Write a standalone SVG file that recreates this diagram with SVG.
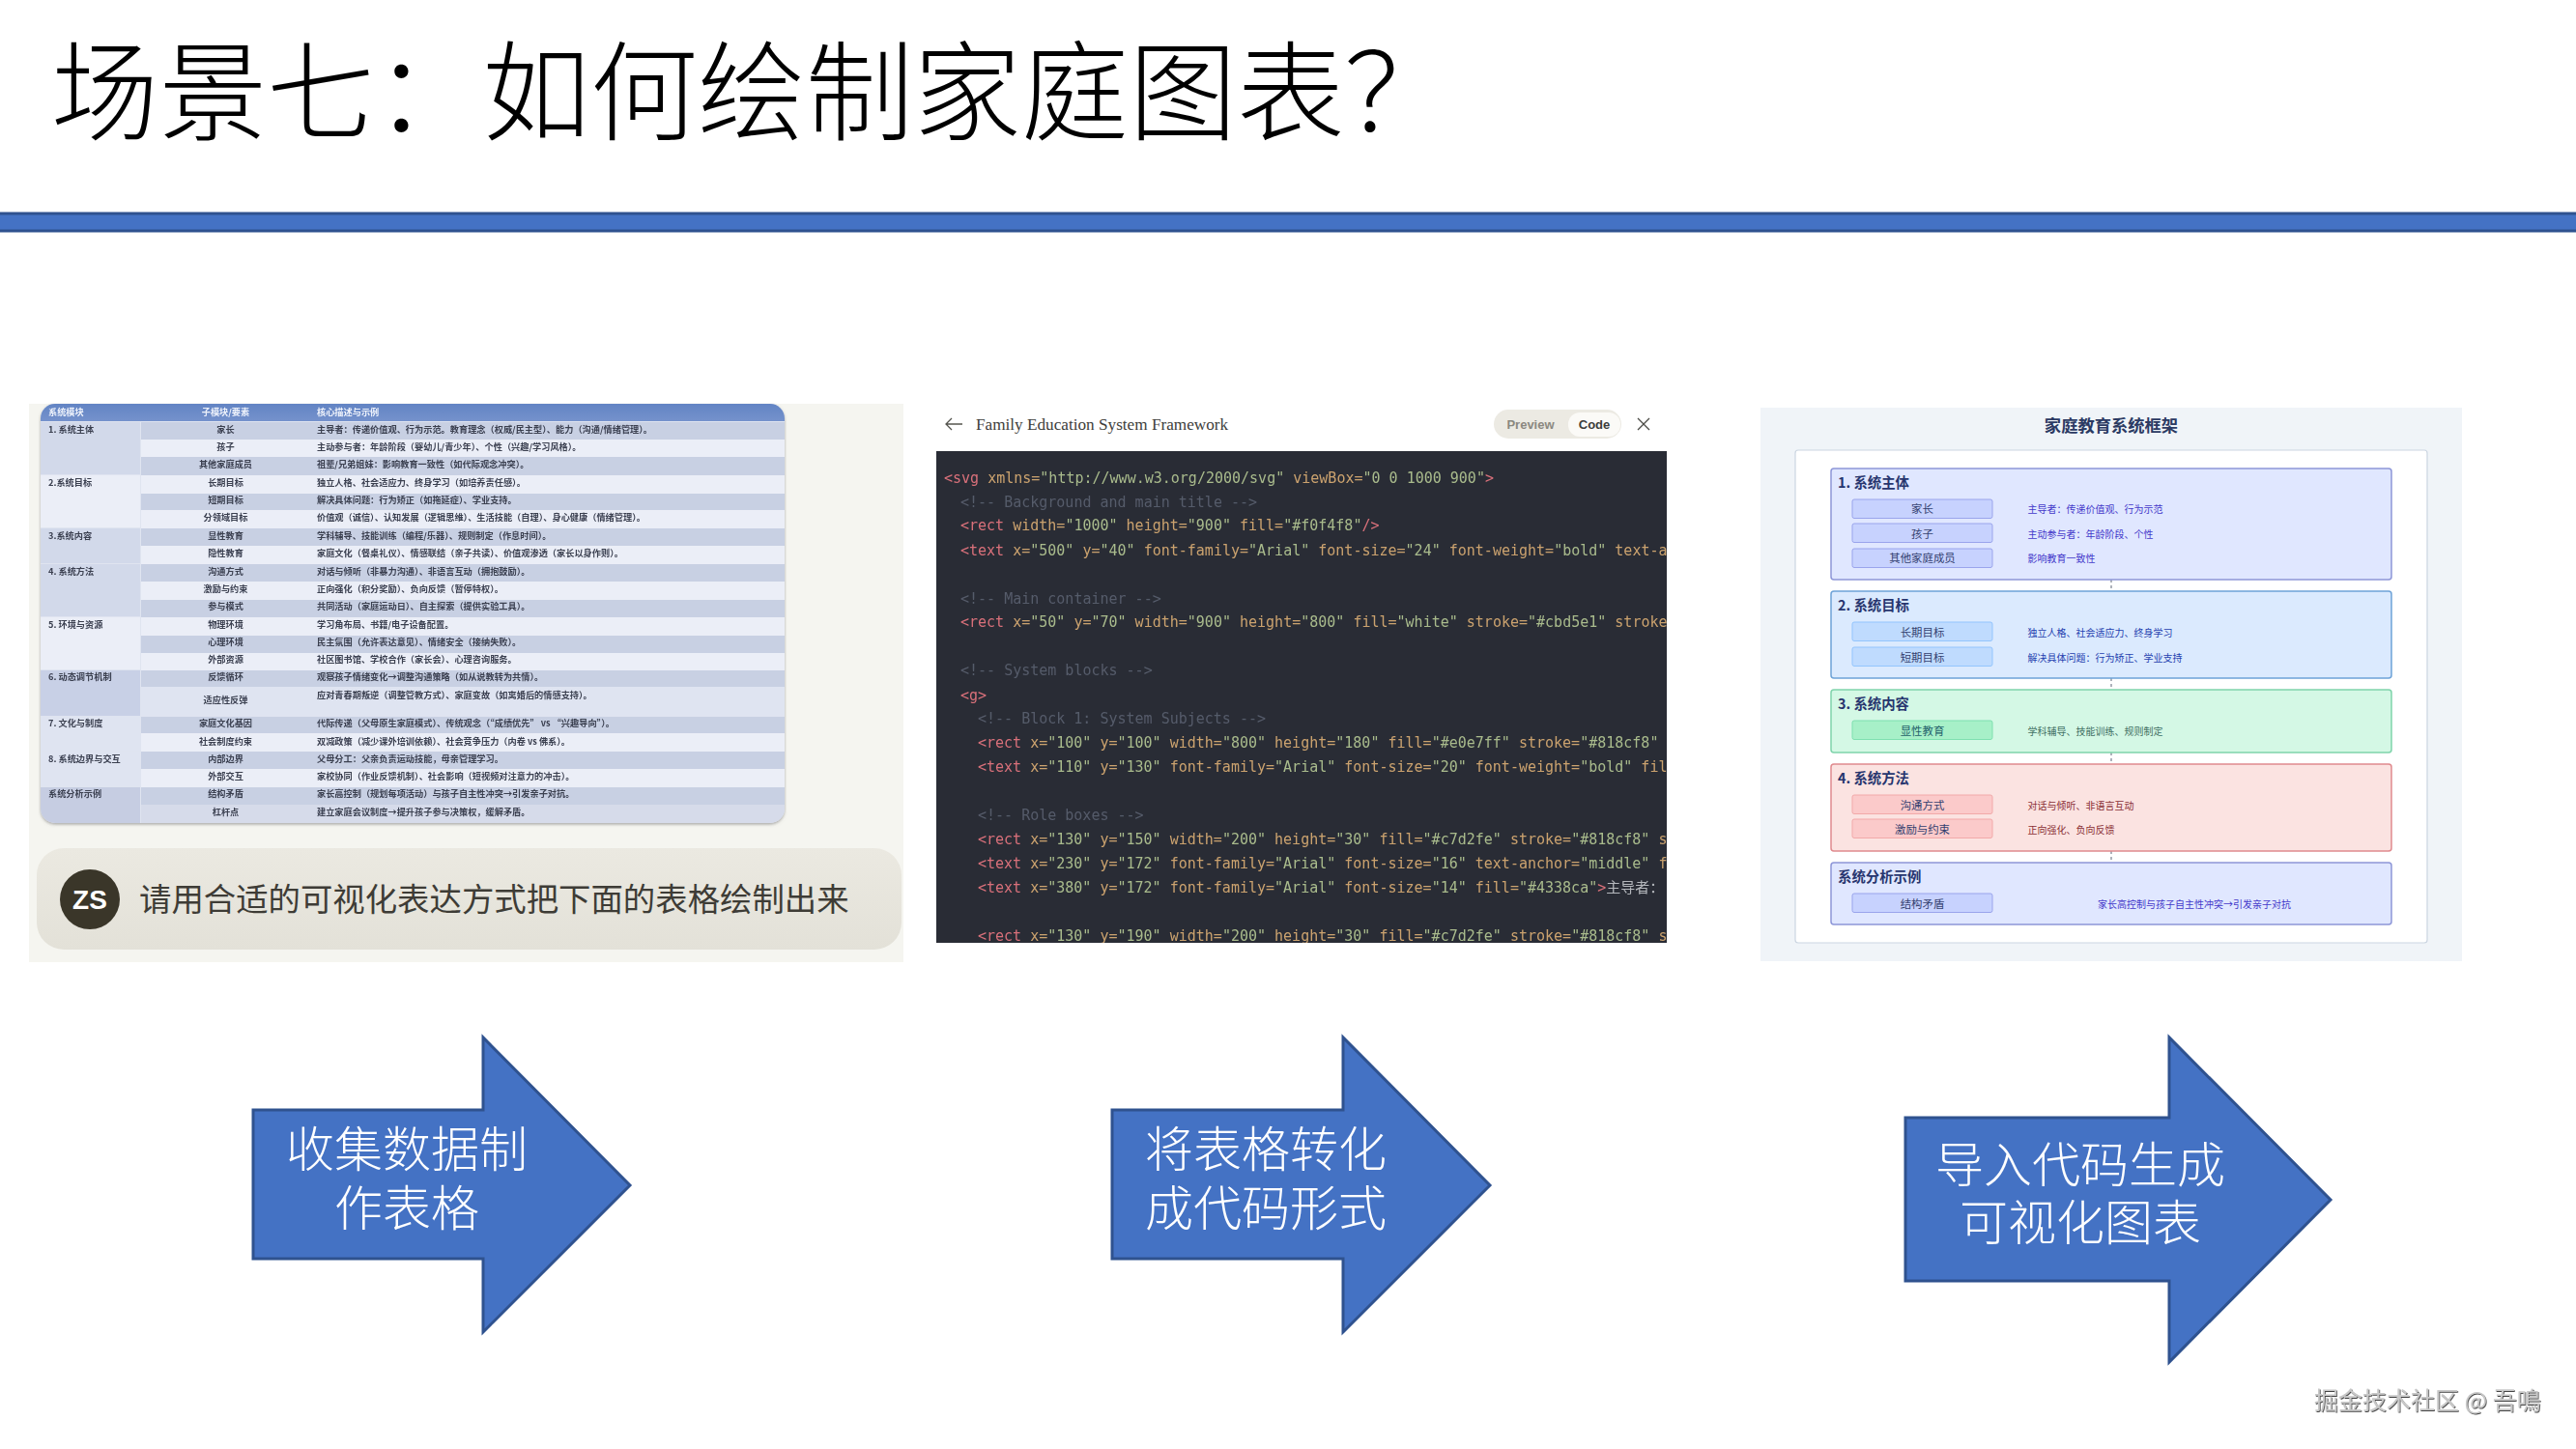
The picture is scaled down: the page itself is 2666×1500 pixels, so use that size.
<svg xmlns="http://www.w3.org/2000/svg" width="2666" height="1500" viewBox="0 0 2666 1500">
<style>
text{font-family:"Noto Sans CJK SC","Liberation Sans",sans-serif}
.arrow{fill:#4472c4;stroke:#2f528f;stroke-width:3}
.arrowtext{font-size:50px;font-weight:300;fill:#fff;text-anchor:middle}
.dk{fill:#c8d0e3}.lt{fill:#ebeef7}
.tb text{font-size:9.2px;fill:#3a3f50;font-weight:700}
.tb .sub{text-anchor:middle}
.tb .hd{fill:#eef2fb}
.code text{font-family:"DejaVu Sans Mono","Noto Sans CJK SC",monospace;font-size:15px;fill:#b8c4a4}
.k{fill:#d9707a}.a{fill:#cba26e}.s{fill:#a9bb8c}.c{fill:#4d5361}
.block{stroke-width:1.5}
.role{stroke-width:1}
.bt{font-size:14.4px;font-weight:700;fill:#27356e}
.rl{font-size:11.4px;fill:#33406f;text-anchor:middle}
.ds{font-size:10px}
.conn{stroke:#5d6678;stroke-width:1;stroke-dasharray:3 3;fill:none}
</style>
<defs>
<filter id="soft" x="-2%" y="-2%" width="104%" height="104%"><feGaussianBlur stdDeviation="0.4"/></filter>
<filter id="emboss" x="-5%" y="-20%" width="110%" height="140%"><feDropShadow dx="0.8" dy="1" stdDeviation="0.5" flood-color="#444"/></filter>
<filter id="tblshadow" x="-2%" y="-2%" width="104%" height="104%"><feDropShadow dx="0" dy="1.5" stdDeviation="1.5" flood-color="#777" flood-opacity="0.6"/></filter>
<linearGradient id="pill" x1="0" y1="0" x2="0" y2="1"><stop offset="0" stop-color="#ebe9e1"/><stop offset="1" stop-color="#e3e1d8"/></linearGradient>
<linearGradient id="head" x1="0" y1="0" x2="0" y2="1"><stop offset="0" stop-color="#6284c4"/><stop offset="1" stop-color="#7592cc"/></linearGradient>
<clipPath id="tblclip"><rect x="42" y="418" width="770" height="434" rx="15"/></clipPath>
<clipPath id="codeclip"><rect x="969" y="467" width="756" height="509"/></clipPath>
</defs>
<rect width="2666" height="1500" fill="#fff"/>

<g id="title">
<text x="53" y="137" font-size="112" font-weight="300" fill="#000" textLength="1450" lengthAdjust="spacingAndGlyphs">场景七：如何绘制家庭图表？</text>
<rect x="-3" y="221" width="2672" height="18" fill="#4472c4" stroke="#2f528f" stroke-width="3"/>
</g>

<g id="panel-table">
<rect x="30" y="418" width="905" height="578" fill="#f5f5f0"/>
<rect x="42" y="418" width="770" height="434" rx="15" fill="#dfe4f0" filter="url(#tblshadow)"/>
<g clip-path="url(#tblclip)">
<rect x="42" y="418" width="770" height="18" fill="url(#head)"/>
<rect x="146" y="437" width="666" height="18" class="dk"/><rect x="146" y="455" width="666" height="18" class="lt"/>
<rect x="146" y="473" width="666" height="19" class="dk"/><rect x="146" y="492" width="666" height="19" class="lt"/>
<rect x="146" y="511" width="666" height="17" class="dk"/><rect x="146" y="528" width="666" height="19" class="lt"/>
<rect x="146" y="547" width="666" height="18" class="dk"/><rect x="146" y="565" width="666" height="19" class="lt"/>
<rect x="146" y="584" width="666" height="18" class="dk"/><rect x="146" y="602" width="666" height="19" class="lt"/>
<rect x="146" y="621" width="666" height="18" class="dk"/><rect x="146" y="639" width="666" height="19" class="lt"/>
<rect x="146" y="658" width="666" height="18" class="dk"/><rect x="146" y="676" width="666" height="18" class="lt"/>
<rect x="146" y="694" width="666" height="17" class="dk"/><rect x="146" y="711" width="666" height="31" class="lt" style="fill:#dfe4f1"/>
<rect x="146" y="742" width="666" height="17" class="dk"/><rect x="146" y="759" width="666" height="19" class="lt"/>
<rect x="146" y="778" width="666" height="18" class="dk"/><rect x="146" y="796" width="666" height="19" class="lt"/>
<rect x="146" y="815" width="666" height="18" class="dk"/><rect x="146" y="833" width="666" height="19" class="lt" style="fill:#d6dbea"/>
<rect x="42" y="437" width="103" height="54" fill="#d2d9ea"/>
<rect x="42" y="492" width="103" height="54" fill="#ebeef7"/>
<rect x="42" y="547" width="103" height="36" fill="#d2d9ea"/>
<rect x="42" y="584" width="103" height="54" fill="#d2d9ea"/>
<rect x="42" y="639" width="103" height="54" fill="#ebeef7"/>
<rect x="42" y="694" width="103" height="47" fill="#c8d0e6"/>
<rect x="42" y="742" width="103" height="35" fill="#dfe4f1"/>
<rect x="42" y="778" width="103" height="36" fill="#dfe4f1"/>
<rect x="42" y="815" width="103" height="37" fill="#c6cde2"/>
</g>
<g class="tb" filter="url(#soft)">
<text x="50" y="430" class="hd">系统模块</text><text x="233.5" y="430" class="hd sub">子模块/要素</text><text x="328" y="430" class="hd">核心描述与示例</text>
<text x="50" y="448">1. 系统主体</text><text x="233.5" y="448" class="sub">家长</text><text x="328" y="448">主导者：传递价值观、行为示范。教育理念（权威/民主型）、能力（沟通/情绪管理）。</text>
<text x="233.5" y="466" class="sub">孩子</text><text x="328" y="466">主动参与者：年龄阶段（婴幼儿/青少年）、个性（兴趣/学习风格）。</text>
<text x="233.5" y="484" class="sub">其他家庭成员</text><text x="328" y="484">祖辈/兄弟姐妹：影响教育一致性（如代际观念冲突）。</text>
<text x="50" y="503">2.系统目标</text><text x="233.5" y="503" class="sub">长期目标</text><text x="328" y="503">独立人格、社会适应力、终身学习（如培养责任感）。</text>
<text x="233.5" y="521" class="sub">短期目标</text><text x="328" y="521">解决具体问题：行为矫正（如拖延症）、学业支持。</text>
<text x="233.5" y="539" class="sub">分领域目标</text><text x="328" y="539">价值观（诚信）、认知发展（逻辑思维）、生活技能（自理）、身心健康（情绪管理）。</text>
<text x="50" y="558">3.系统内容</text><text x="233.5" y="558" class="sub">显性教育</text><text x="328" y="558">学科辅导、技能训练（编程/乐器）、规则制定（作息时间）。</text>
<text x="233.5" y="576" class="sub">隐性教育</text><text x="328" y="576">家庭文化（餐桌礼仪）、情感联结（亲子共读）、价值观渗透（家长以身作则）。</text>
<text x="50" y="595">4. 系统方法</text><text x="233.5" y="595" class="sub">沟通方式</text><text x="328" y="595">对话与倾听（非暴力沟通）、非语言互动（拥抱鼓励）。</text>
<text x="233.5" y="613" class="sub">激励与约束</text><text x="328" y="613">正向强化（积分奖励）、负向反馈（暂停特权）。</text>
<text x="233.5" y="631" class="sub">参与模式</text><text x="328" y="631">共同活动（家庭运动日）、自主探索（提供实验工具）。</text>
<text x="50" y="650">5. 环境与资源</text><text x="233.5" y="650" class="sub">物理环境</text><text x="328" y="650">学习角布局、书籍/电子设备配置。</text>
<text x="233.5" y="668" class="sub">心理环境</text><text x="328" y="668">民主氛围（允许表达意见）、情绪安全（接纳失败）。</text>
<text x="233.5" y="686" class="sub">外部资源</text><text x="328" y="686">社区图书馆、学校合作（家长会）、心理咨询服务。</text>
<text x="50" y="704">6. 动态调节机制</text><text x="233.5" y="704" class="sub">反馈循环</text><text x="328" y="704">观察孩子情绪变化→调整沟通策略（如从说教转为共情）。</text>
<text x="233.5" y="728" class="sub">适应性反弹</text><text x="328" y="723">应对青春期叛逆（调整管教方式）、家庭变故（如离婚后的情感支持）。</text>
<text x="50" y="752">7. 文化与制度</text><text x="233.5" y="752" class="sub">家庭文化基因</text><text x="328" y="752">代际传递（父母原生家庭模式）、传统观念（“成绩优先” vs “兴趣导向”）。</text>
<text x="233.5" y="771" class="sub">社会制度约束</text><text x="328" y="771">双减政策（减少课外培训依赖）、社会竞争压力（内卷 vs 佛系）。</text>
<text x="50" y="789">8. 系统边界与交互</text><text x="233.5" y="789" class="sub">内部边界</text><text x="328" y="789">父母分工：父亲负责运动技能，母亲管理学习。</text>
<text x="233.5" y="807" class="sub">外部交互</text><text x="328" y="807">家校协同（作业反馈机制）、社会影响（短视频对注意力的冲击）。</text>
<text x="50" y="825">系统分析示例</text><text x="233.5" y="825" class="sub">结构矛盾</text><text x="328" y="825">家长高控制（规划每项活动）与孩子自主性冲突→引发亲子对抗。</text>
<text x="233.5" y="844" class="sub">杠杆点</text><text x="328" y="844">建立家庭会议制度→提升孩子参与决策权，缓解矛盾。</text>
</g>
<rect x="38" y="878" width="895" height="105" rx="28" fill="url(#pill)"/>
<circle cx="93" cy="931" r="31" fill="#3a3629"/>
<text x="93" y="941" font-size="28" font-weight="700" fill="#fff" text-anchor="middle" style="font-family:'Liberation Sans',sans-serif">ZS</text>
<text x="144" y="943" font-size="33.4" fill="#3e3c36">请用合适的可视化表达方式把下面的表格绘制出来</text>
</g>

<g id="panel-code">
<text x="1010" y="445" font-size="17.2" fill="#3d3d3a" style="font-family:'Liberation Serif',serif">Family Education System Framework</text>
<path d="M996 439H979M985 433L979 439L985 445" fill="none" stroke="#55554f" stroke-width="1.3"/>
<rect x="1546" y="424" width="132" height="30" rx="15" fill="#eceae3"/>
<rect x="1623" y="427" width="54" height="25" rx="12" fill="#fbfaf7"/>
<text x="1584" y="444" font-size="13" font-weight="700" fill="#8a8880" text-anchor="middle" style="font-family:'Liberation Sans',sans-serif">Preview</text>
<text x="1650" y="444" font-size="13" font-weight="700" fill="#3d3d3a" text-anchor="middle" style="font-family:'Liberation Sans',sans-serif">Code</text>
<path d="M1695 433L1707 445M1707 433L1695 445" stroke="#4a4a45" stroke-width="1.3" fill="none"/>
<rect x="969" y="467" width="756" height="509" fill="#292c35"/>
<g class="code" clip-path="url(#codeclip)"><g filter="url(#soft)">
<text x="977" y="500"><tspan class="k">&lt;svg</tspan><tspan class="a"> xmlns=</tspan><tspan class="s">"http://www.w3.org/2000/svg"</tspan><tspan class="a"> viewBox=</tspan><tspan class="s">"0 0 1000 900"</tspan><tspan class="k">&gt;</tspan></text>
<text x="994" y="525" class="c" style="fill:#555b6a">&lt;!-- Background and main title --&gt;</text>
<text x="994" y="549"><tspan class="k">&lt;rect</tspan><tspan class="a"> width=</tspan><tspan class="s">"1000"</tspan><tspan class="a"> height=</tspan><tspan class="s">"900"</tspan><tspan class="a"> fill=</tspan><tspan class="s">"#f0f4f8"</tspan><tspan class="k">/&gt;</tspan></text>
<text x="994" y="575"><tspan class="k">&lt;text</tspan><tspan class="a"> x=</tspan><tspan class="s">"500"</tspan><tspan class="a"> y=</tspan><tspan class="s">"40"</tspan><tspan class="a"> font-family=</tspan><tspan class="s">"Arial"</tspan><tspan class="a"> font-size=</tspan><tspan class="s">"24"</tspan><tspan class="a"> font-weight=</tspan><tspan class="s">"bold"</tspan><tspan class="a"> text-a</tspan></text>
<text x="994" y="625" class="c" style="fill:#555b6a">&lt;!-- Main container --&gt;</text>
<text x="994" y="649"><tspan class="k">&lt;rect</tspan><tspan class="a"> x=</tspan><tspan class="s">"50"</tspan><tspan class="a"> y=</tspan><tspan class="s">"70"</tspan><tspan class="a"> width=</tspan><tspan class="s">"900"</tspan><tspan class="a"> height=</tspan><tspan class="s">"800"</tspan><tspan class="a"> fill=</tspan><tspan class="s">"white"</tspan><tspan class="a"> stroke=</tspan><tspan class="s">"#cbd5e1"</tspan><tspan class="a"> stroke</tspan></text>
<text x="994" y="699" style="fill:#555b6a">&lt;!-- System blocks --&gt;</text>
<text x="994" y="725"><tspan class="k">&lt;g&gt;</tspan></text>
<text x="1012" y="749" style="fill:#555b6a">&lt;!-- Block 1: System Subjects --&gt;</text>
<text x="1012" y="774"><tspan class="k">&lt;rect</tspan><tspan class="a"> x=</tspan><tspan class="s">"100"</tspan><tspan class="a"> y=</tspan><tspan class="s">"100"</tspan><tspan class="a"> width=</tspan><tspan class="s">"800"</tspan><tspan class="a"> height=</tspan><tspan class="s">"180"</tspan><tspan class="a"> fill=</tspan><tspan class="s">"#e0e7ff"</tspan><tspan class="a"> stroke=</tspan><tspan class="s">"#818cf8"</tspan></text>
<text x="1012" y="799"><tspan class="k">&lt;text</tspan><tspan class="a"> x=</tspan><tspan class="s">"110"</tspan><tspan class="a"> y=</tspan><tspan class="s">"130"</tspan><tspan class="a"> font-family=</tspan><tspan class="s">"Arial"</tspan><tspan class="a"> font-size=</tspan><tspan class="s">"20"</tspan><tspan class="a"> font-weight=</tspan><tspan class="s">"bold"</tspan><tspan class="a"> fil</tspan></text>
<text x="1012" y="849" style="fill:#555b6a">&lt;!-- Role boxes --&gt;</text>
<text x="1012" y="874"><tspan class="k">&lt;rect</tspan><tspan class="a"> x=</tspan><tspan class="s">"130"</tspan><tspan class="a"> y=</tspan><tspan class="s">"150"</tspan><tspan class="a"> width=</tspan><tspan class="s">"200"</tspan><tspan class="a"> height=</tspan><tspan class="s">"30"</tspan><tspan class="a"> fill=</tspan><tspan class="s">"#c7d2fe"</tspan><tspan class="a"> stroke=</tspan><tspan class="s">"#818cf8"</tspan><tspan class="a"> s</tspan></text>
<text x="1012" y="899"><tspan class="k">&lt;text</tspan><tspan class="a"> x=</tspan><tspan class="s">"230"</tspan><tspan class="a"> y=</tspan><tspan class="s">"172"</tspan><tspan class="a"> font-family=</tspan><tspan class="s">"Arial"</tspan><tspan class="a"> font-size=</tspan><tspan class="s">"16"</tspan><tspan class="a"> text-anchor=</tspan><tspan class="s">"middle"</tspan><tspan class="a"> f</tspan></text>
<text x="1012" y="924"><tspan class="k">&lt;text</tspan><tspan class="a"> x=</tspan><tspan class="s">"380"</tspan><tspan class="a"> y=</tspan><tspan class="s">"172"</tspan><tspan class="a"> font-family=</tspan><tspan class="s">"Arial"</tspan><tspan class="a"> font-size=</tspan><tspan class="s">"14"</tspan><tspan class="a"> fill=</tspan><tspan class="s">"#4338ca"</tspan><tspan class="k">&gt;</tspan><tspan style="fill:#b5b8bd">主导者：</tspan></text>
<text x="1012" y="974"><tspan class="k">&lt;rect</tspan><tspan class="a"> x=</tspan><tspan class="s">"130"</tspan><tspan class="a"> y=</tspan><tspan class="s">"190"</tspan><tspan class="a"> width=</tspan><tspan class="s">"200"</tspan><tspan class="a"> height=</tspan><tspan class="s">"30"</tspan><tspan class="a"> fill=</tspan><tspan class="s">"#c7d2fe"</tspan><tspan class="a"> stroke=</tspan><tspan class="s">"#818cf8"</tspan><tspan class="a"> s</tspan></text>
</g></g>
</g>

<g id="panel-framework">
<rect x="1822" y="422" width="726" height="573" fill="#f0f4f8"/>
<text x="2185" y="447" font-size="17.3" font-weight="700" fill="#2b3a63" text-anchor="middle">家庭教育系统框架</text>
<rect x="1858" y="466" width="654" height="510" rx="3" fill="#fff" stroke="#cbd5e1" stroke-width="1.2"/>
<g id="fw-connectors">
<path class="conn" d="M2185 600V612M2185 702V714M2185 779V791M2185 881V893"/>
</g>
<g id="block-1">
<rect class="block" x="1895" y="485" width="580" height="115" rx="3" fill="#e0e7ff" stroke="#8d96d8"/>
<text class="bt" x="1902" y="505">1. 系统主体</text>
<rect class="role" x="1917" y="517" width="145" height="19.5" rx="2" fill="#c7d2fe" stroke="#9aa4ec"/><text class="rl" x="1989.5" y="531">家长</text><text class="ds" x="2098.5" y="531" fill="#4338ca">主导者：传递价值观、行为示范</text>
<rect class="role" x="1917" y="542" width="145" height="19.5" rx="2" fill="#c7d2fe" stroke="#9aa4ec"/><text class="rl" x="1989.5" y="557">孩子</text><text class="ds" x="2098.5" y="557" fill="#4338ca">主动参与者：年龄阶段、个性</text>
<rect class="role" x="1917" y="568" width="145" height="19.5" rx="2" fill="#c7d2fe" stroke="#9aa4ec"/><text class="rl" x="1989.5" y="582">其他家庭成员</text><text class="ds" x="2098.5" y="582" fill="#4338ca">影响教育一致性</text>
</g>
<g id="block-2">
<rect class="block" x="1895" y="612" width="580" height="90" rx="3" fill="#dbeafe" stroke="#6ea3d8"/>
<text class="bt" x="1902" y="632">2. 系统目标</text>
<rect class="role" x="1917" y="644" width="145" height="19.5" rx="2" fill="#bfdbfe" stroke="#93c5fd"/><text class="rl" x="1989.5" y="659">长期目标</text><text class="ds" x="2098.5" y="659" fill="#1e40af">独立人格、社会适应力、终身学习</text>
<rect class="role" x="1917" y="670" width="145" height="19.5" rx="2" fill="#bfdbfe" stroke="#93c5fd"/><text class="rl" x="1989.5" y="685">短期目标</text><text class="ds" x="2098.5" y="685" fill="#1e40af">解决具体问题：行为矫正、学业支持</text>
</g>
<g id="block-3">
<rect class="block" x="1895" y="714" width="580" height="65" rx="3" fill="#d4f8e5" stroke="#7fd3ab"/>
<text class="bt" x="1902" y="734">3. 系统内容</text>
<rect class="role" x="1917" y="746" width="145" height="19.5" rx="2" fill="#a7f0c8" stroke="#7fe0b0"/><text class="rl" x="1989.5" y="761" style="fill:#1f5f6a">显性教育</text><text class="ds" x="2098.5" y="761" fill="#3f6f62">学科辅导、技能训练、规则制定</text>
</g>
<g id="block-4">
<rect class="block" x="1895" y="791" width="580" height="90" rx="3" fill="#fbe3e1" stroke="#e08a8e"/>
<text class="bt" x="1902" y="811">4. 系统方法</text>
<rect class="role" x="1917" y="823" width="145" height="19.5" rx="2" fill="#fbcaca" stroke="#f2a9a9"/><text class="rl" x="1989.5" y="838">沟通方式</text><text class="ds" x="2098.5" y="838" fill="#8a2f35">对话与倾听、非语言互动</text>
<rect class="role" x="1917" y="848" width="145" height="19.5" rx="2" fill="#fbcaca" stroke="#f2a9a9"/><text class="rl" x="1989.5" y="863">激励与约束</text><text class="ds" x="2098.5" y="863" fill="#8a2f35">正向强化、负向反馈</text>
</g>
<g id="block-5">
<rect class="block" x="1895" y="893" width="580" height="64" rx="3" fill="#e0e7ff" stroke="#8d96d8"/>
<text class="bt" x="1902" y="913">系统分析示例</text>
<rect class="role" x="1917" y="925" width="145" height="19.5" rx="2" fill="#c7d2fe" stroke="#9aa4ec"/><text class="rl" x="1989.5" y="940">结构矛盾</text><text class="ds" x="2171" y="940" fill="#4338ca">家长高控制与孩子自主性冲突→引发亲子对抗</text>
</g>
</g>

<g id="arrow-1">
<path class="arrow" d="M262 1149H500V1074L652 1227L500 1379V1303H262Z"/>
<text class="arrowtext"><tspan x="421" y="1208">收集数据制</tspan><tspan x="421" y="1269">作表格</tspan></text>
</g>
<g id="arrow-2">
<path class="arrow" d="M1151 1149H1390V1074L1542 1227L1390 1379V1303H1151Z"/>
<text class="arrowtext"><tspan x="1310" y="1208">将表格转化</tspan><tspan x="1310" y="1269">成代码形式</tspan></text>
</g>
<g id="arrow-3">
<path class="arrow" d="M1972 1157H2245V1074L2412 1242L2245 1410V1326H1972Z"/>
<text class="arrowtext"><tspan x="2153" y="1224">导入代码生成</tspan><tspan x="2153" y="1284">可视化图表</tspan></text>
</g>

<text id="watermark" x="2395" y="1459" font-size="25" fill="#c8c8c8" filter="url(#emboss)">掘金技术社区 @ 吾鳴</text>
</svg>
